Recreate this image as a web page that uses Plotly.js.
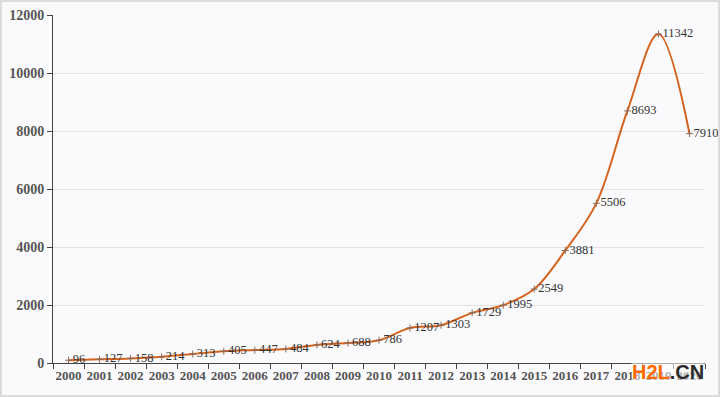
<!DOCTYPE html>
<html>
<head>
<meta charset="utf-8">
<script src="https://cdn.plot.ly/plotly-3.0.1.min.js"></script>
<style>
html,body{margin:0;padding:0;background:#fff;}
#frame{width:720px;height:397px;box-sizing:border-box;border:2px solid #dcdcdc;background:#fafafc;}
#chart{width:716px;height:393px;}
</style>
</head>
<body>
<div id="frame"><div id="chart"></div></div>
<script>
const years = ["2000","2001","2002","2003","2004","2005","2006","2007","2008","2009","2010",
               "2011","2012","2013","2014","2015","2016","2017","2018","2019","2020"];
const values = [96,127,158,214,313,405,447,484,624,688,786,1207,1303,1729,1995,2549,3881,5506,8693,11342,7910];
const yTicks = [0,2000,4000,6000,8000,10000,12000];

const SERIF = 'Liberation Serif';

const trace = {
  x: years,
  y: values,
  type: 'scatter',
  mode: 'lines+markers+text',
  line: {color: '#d5641f', width: 2, shape: 'spline', smoothing: 1},
  marker: {symbol: 'cross-thin-open', size: 5, color: '#8a6a5a', line: {color: '#8a6a5a', width: 1}},
  text: values.map(String),
  textposition: 'middle right',
  textfont: {family: SERIF, size: 12.5, color: '#333'},
  cliponaxis: false,
  hoverinfo: 'x+y'
};

const layout = {
  width: 716, height: 393,
  margin: {l: 51, r: 13, t: 13, b: 32},
  paper_bgcolor: 'rgba(0,0,0,0)',
  plot_bgcolor: 'rgba(0,0,0,0)',
  showlegend: false,
  font: {family: SERIF},
  xaxis: {
    type: 'category',
    range: [-0.5, 20.5],
    tickson: 'boundaries',
    tickangle: 0,
    ticks: 'outside', ticklen: 5, tickcolor: '#444', tickwidth: 1,
    showline: true, linecolor: '#444', linewidth: 1,
    showgrid: false, zeroline: false,
    tickfont: {family: SERIF, size: 13, color: '#555', weight: 'bold'}
  },
  yaxis: {
    range: [0, 12000],
    tickmode: 'array', tickvals: yTicks, ticktext: yTicks.map(String),
    ticks: 'outside', ticklen: 5, tickcolor: '#444', tickwidth: 1,
    showline: true, linecolor: '#444', linewidth: 1,
    showgrid: true, gridcolor: '#e2e2e4', gridwidth: 1,
    zeroline: false,
    tickfont: {family: SERIF, size: 14, color: '#555', weight: 'bold'}
  },
  annotations: [{
    xref: 'paper', yref: 'paper', x: 1.0, y: -0.027, xanchor: 'right', yanchor: 'middle',
    text: '<b><span style="color:#ff6a00">H2L</span><span style="color:#2b2b2b">.CN</span></b>',
    showarrow: false,
    font: {family: 'Liberation Sans', size: 20},
    bgcolor: 'rgba(255,255,255,0.55)', borderpad: 0
  }]
};

Plotly.newPlot('chart', [trace], layout, {displayModeBar: false, staticPlot: true});
</script>
</body>
</html>
